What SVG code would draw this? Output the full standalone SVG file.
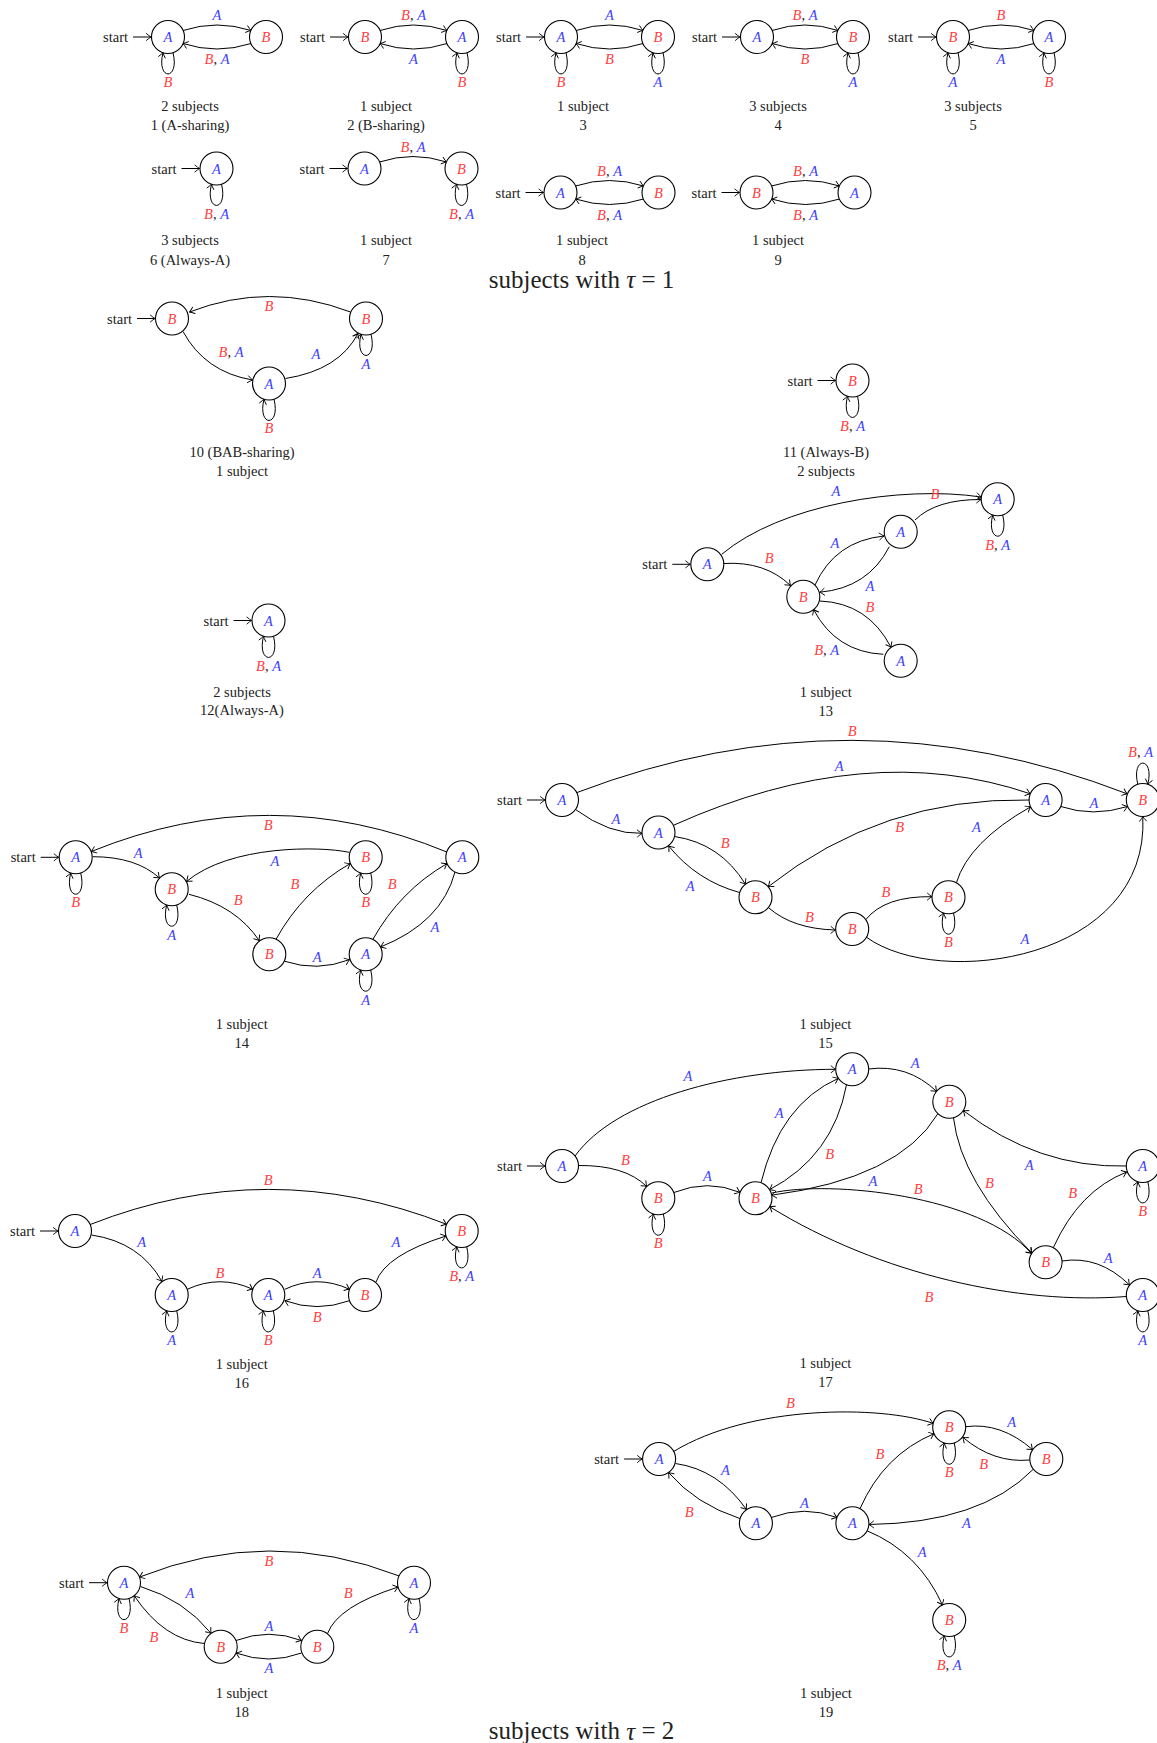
<svg xmlns="http://www.w3.org/2000/svg" xmlns:xlink="http://www.w3.org/1999/xlink" width="1157" height="1743" viewBox="0 0 1157 1743">
<style>
  text { font-family: "Liberation Serif", "DejaVu Serif", serif; font-size: 14.5px; fill: #222; text-anchor: middle; dominant-baseline: central; }
  .node circle { fill: #fff; stroke: #000; stroke-width: 1.1; }
  .node text, .m { font-style: italic; }
  .a { fill: #4040ff; }
  .b { fill: #ff4040; }
  .k { font-style: normal; fill: #222; }
  .e { fill: none; stroke: #000; stroke-width: 1; marker-end: url(#arr); }
  .st { text-anchor: end; }
  .title { font-size: 25px; }
</style>
<defs>
  <marker id="arr" viewBox="-6 -5 7 10" refX="0" refY="0" markerWidth="7" markerHeight="10" markerUnits="userSpaceOnUse" orient="auto">
    <path d="M-4.6,-3.4 Q-1.6,-0.9 0,0 Q-1.6,0.9 -4.6,3.4" fill="none" stroke="#000" stroke-width="0.9" stroke-linecap="round"/>
  </marker>
  <!-- self-loops: below and above a state of radius 16.5 -->
  <path id="lb" d="M5,15.7 C12,44 -12,44 -5,15.7" fill="none" stroke="#000" stroke-width="1" marker-end="url(#arr)"/>
  <path id="la" d="M-5,-15.7 C-12,-44 12,-44 5,-15.7" fill="none" stroke="#000" stroke-width="1" marker-end="url(#arr)"/>
</defs>
<rect width="1157" height="1743" fill="#fff"/>

<!-- ===== 1 (A-sharing) ===== -->
<g id="f1">
  <g id="f1-edges">
    <text class="st" x="128" y="37">start</text>
    <path class="e" d="M133,37 H151"/>
    <path class="e" d="M183,30.5 Q217,19.5 251,30.5"/>
    <path class="e" d="M251,43.5 Q217,54.5 183,43.5"/>
    <use href="#lb" x="168" y="37"/>
    <text class="m a" x="217" y="15">A</text>
    <text class="m" x="217" y="59"><tspan class="b">B</tspan><tspan class="k">, </tspan><tspan class="a">A</tspan></text>
    <text class="m b" x="168" y="82">B</text>
  </g>
  <g id="f1-q0" class="node"><circle cx="168" cy="37" r="16.5"/><text class="a" x="168" y="37">A</text></g>
  <g id="f1-q1" class="node"><circle cx="266" cy="37" r="16.5"/><text class="b" x="266" y="37">B</text></g>
  <text x="190" y="106">2 subjects</text>
  <text x="190" y="125">1 (A-sharing)</text>
</g>

<!-- ===== 2 (B-sharing) ===== -->
<g id="f2">
  <g id="f2-edges">
    <text class="st" x="325" y="37">start</text>
    <path class="e" d="M330,37 H348"/>
    <path class="e" d="M380,30.5 Q413.5,19.5 447,30.5"/>
    <path class="e" d="M447,43.5 Q413.5,54.5 380,43.5"/>
    <use href="#lb" x="462" y="37"/>
    <text class="m" x="413.5" y="15"><tspan class="b">B</tspan><tspan class="k">, </tspan><tspan class="a">A</tspan></text>
    <text class="m a" x="413.5" y="59">A</text>
    <text class="m b" x="462" y="82">B</text>
  </g>
  <g id="f2-q0" class="node"><circle cx="365" cy="37" r="16.5"/><text class="b" x="365" y="37">B</text></g>
  <g id="f2-q1" class="node"><circle cx="462" cy="37" r="16.5"/><text class="a" x="462" y="37">A</text></g>
  <text x="386" y="106">1 subject</text>
  <text x="386" y="125">2 (B-sharing)</text>
</g>

<!-- ===== 3 ===== -->
<g id="f3">
  <g id="f3-edges">
    <text class="st" x="521" y="37">start</text>
    <path class="e" d="M526,37 H544"/>
    <path class="e" d="M576,30.5 Q609.5,19.5 643,30.5"/>
    <path class="e" d="M643,43.5 Q609.5,54.5 576,43.5"/>
    <use href="#lb" x="561" y="37"/>
    <use href="#lb" x="658" y="37"/>
    <text class="m a" x="609.5" y="15">A</text>
    <text class="m b" x="609.5" y="59">B</text>
    <text class="m b" x="561" y="82">B</text>
    <text class="m a" x="658" y="82">A</text>
  </g>
  <g id="f3-q0" class="node"><circle cx="561" cy="37" r="16.5"/><text class="a" x="561" y="37">A</text></g>
  <g id="f3-q1" class="node"><circle cx="658" cy="37" r="16.5"/><text class="b" x="658" y="37">B</text></g>
  <text x="583" y="106">1 subject</text>
  <text x="583" y="125">3</text>
</g>

<!-- ===== 4 ===== -->
<g id="f4">
  <g id="f4-edges">
    <text class="st" x="717" y="37">start</text>
    <path class="e" d="M722,37 H740"/>
    <path class="e" d="M772,30.5 Q805,19.5 838,30.5"/>
    <path class="e" d="M838,43.5 Q805,54.5 772,43.5"/>
    <use href="#lb" x="853" y="37"/>
    <text class="m" x="805" y="15"><tspan class="b">B</tspan><tspan class="k">, </tspan><tspan class="a">A</tspan></text>
    <text class="m b" x="805" y="59">B</text>
    <text class="m a" x="853" y="82">A</text>
  </g>
  <g id="f4-q0" class="node"><circle cx="757" cy="37" r="16.5"/><text class="a" x="757" y="37">A</text></g>
  <g id="f4-q1" class="node"><circle cx="853" cy="37" r="16.5"/><text class="b" x="853" y="37">B</text></g>
  <text x="778" y="106">3 subjects</text>
  <text x="778" y="125">4</text>
</g>

<!-- ===== 5 ===== -->
<g id="f5">
  <g id="f5-edges">
    <text class="st" x="913" y="37">start</text>
    <path class="e" d="M918,37 H936"/>
    <path class="e" d="M968,30.5 Q1001,19.5 1034,30.5"/>
    <path class="e" d="M1034,43.5 Q1001,54.5 968,43.5"/>
    <use href="#lb" x="953" y="37"/>
    <use href="#lb" x="1049" y="37"/>
    <text class="m b" x="1001" y="15">B</text>
    <text class="m a" x="1001" y="59">A</text>
    <text class="m a" x="953" y="82">A</text>
    <text class="m b" x="1049" y="82">B</text>
  </g>
  <g id="f5-q0" class="node"><circle cx="953" cy="37" r="16.5"/><text class="b" x="953" y="37">B</text></g>
  <g id="f5-q1" class="node"><circle cx="1049" cy="37" r="16.5"/><text class="a" x="1049" y="37">A</text></g>
  <text x="973" y="106">3 subjects</text>
  <text x="973" y="125">5</text>
</g>

<!-- ===== 6 (Always-A) ===== -->
<g id="f6">
  <g id="f6-edges">
    <text class="st" x="176.5" y="168.5">start</text>
    <path class="e" d="M181.5,168.5 H199.5"/>
    <use href="#lb" x="216.5" y="168.5"/>
    <text class="m" x="216.5" y="213.5"><tspan class="b">B</tspan><tspan class="k">, </tspan><tspan class="a">A</tspan></text>
  </g>
  <g id="f6-q0" class="node"><circle cx="216.5" cy="168.5" r="16.5"/><text class="a" x="216.5" y="168.5">A</text></g>
  <text x="190" y="240">3 subjects</text>
  <text x="190" y="260">6 (Always-A)</text>
</g>

<!-- ===== 7 ===== -->
<g id="f7">
  <g id="f7-edges">
    <text class="st" x="324.5" y="168.5">start</text>
    <path class="e" d="M329.5,168.5 H347.5"/>
    <path class="e" d="M379.5,162 Q413,151 446.5,162"/>
    <use href="#lb" x="461.5" y="168.5"/>
    <text class="m" x="413" y="146.5"><tspan class="b">B</tspan><tspan class="k">, </tspan><tspan class="a">A</tspan></text>
    <text class="m" x="461.5" y="213.5"><tspan class="b">B</tspan><tspan class="k">, </tspan><tspan class="a">A</tspan></text>
  </g>
  <g id="f7-q0" class="node"><circle cx="364.5" cy="168.5" r="16.5"/><text class="a" x="364.5" y="168.5">A</text></g>
  <g id="f7-q1" class="node"><circle cx="461.5" cy="168.5" r="16.5"/><text class="b" x="461.5" y="168.5">B</text></g>
  <text x="386" y="240">1 subject</text>
  <text x="386" y="260">7</text>
</g>

<!-- ===== 8 ===== -->
<g id="f8">
  <g id="f8-edges">
    <text class="st" x="520.5" y="192.5">start</text>
    <path class="e" d="M525.5,192.5 H543.5"/>
    <path class="e" d="M575.5,186 Q609.5,175 643.5,186"/>
    <path class="e" d="M643.5,199 Q609.5,210 575.5,199"/>
    <text class="m" x="609.5" y="170.5"><tspan class="b">B</tspan><tspan class="k">, </tspan><tspan class="a">A</tspan></text>
    <text class="m" x="609.5" y="214.5"><tspan class="b">B</tspan><tspan class="k">, </tspan><tspan class="a">A</tspan></text>
  </g>
  <g id="f8-q0" class="node"><circle cx="560.5" cy="192.5" r="16.5"/><text class="a" x="560.5" y="192.5">A</text></g>
  <g id="f8-q1" class="node"><circle cx="658.5" cy="192.5" r="16.5"/><text class="b" x="658.5" y="192.5">B</text></g>
  <text x="582" y="240">1 subject</text>
  <text x="582" y="260">8</text>
</g>

<!-- ===== 9 ===== -->
<g id="f9">
  <g id="f9-edges">
    <text class="st" x="716.5" y="192.5">start</text>
    <path class="e" d="M721.5,192.5 H739.5"/>
    <path class="e" d="M771.5,186 Q805.5,175 839.5,186"/>
    <path class="e" d="M839.5,199 Q805.5,210 771.5,199"/>
    <text class="m" x="805.5" y="170.5"><tspan class="b">B</tspan><tspan class="k">, </tspan><tspan class="a">A</tspan></text>
    <text class="m" x="805.5" y="214.5"><tspan class="b">B</tspan><tspan class="k">, </tspan><tspan class="a">A</tspan></text>
  </g>
  <g id="f9-q0" class="node"><circle cx="756.5" cy="192.5" r="16.5"/><text class="b" x="756.5" y="192.5">B</text></g>
  <g id="f9-q1" class="node"><circle cx="854.5" cy="192.5" r="16.5"/><text class="a" x="854.5" y="192.5">A</text></g>
  <text x="778" y="240">1 subject</text>
  <text x="778" y="260">9</text>
</g>

<text class="title" x="581.5" y="279">subjects with <tspan font-style="italic">τ</tspan> = 1</text>

<!-- ===== 10 (BAB-sharing) ===== -->
<g id="f10">
  <g id="f10-edges">
    <text class="st" x="132" y="318.5">start</text>
    <path class="e" d="M137,318.5 H155"/>
    <path class="e" d="M350.5,312 Q269,281 189.5,312"/>
    <path class="e" d="M183,331.5 Q205,372 252.5,380"/>
    <path class="e" d="M285.5,378.5 Q339,370 358,333.5"/>
    <use href="#lb" x="269" y="383.5"/>
    <use href="#lb" x="366" y="318.5"/>
    <text class="m b" x="269" y="306">B</text>
    <text class="m" x="231" y="352"><tspan class="b">B</tspan><tspan class="k">, </tspan><tspan class="a">A</tspan></text>
    <text class="m a" x="316" y="354">A</text>
    <text class="m a" x="366" y="364">A</text>
    <text class="m b" x="269" y="428">B</text>
  </g>
  <g id="f10-q0" class="node"><circle cx="172" cy="318.5" r="16.5"/><text class="b" x="172" y="318.5">B</text></g>
  <g id="f10-q1" class="node"><circle cx="269" cy="383.5" r="16.5"/><text class="a" x="269" y="383.5">A</text></g>
  <g id="f10-q2" class="node"><circle cx="366" cy="318.5" r="16.5"/><text class="b" x="366" y="318.5">B</text></g>
  <text x="242" y="452">10 (BAB-sharing)</text>
  <text x="242" y="471">1 subject</text>
</g>

<!-- ===== 11 (Always-B) ===== -->
<g id="f11">
  <g id="f11-edges">
    <text class="st" x="812.5" y="380.5">start</text>
    <path class="e" d="M817.5,380.5 H835.5"/>
    <use href="#lb" x="852.5" y="380.5"/>
    <text class="m" x="852.5" y="425.5"><tspan class="b">B</tspan><tspan class="k">, </tspan><tspan class="a">A</tspan></text>
  </g>
  <g id="f11-q0" class="node"><circle cx="852.5" cy="380.5" r="16.5"/><text class="b" x="852.5" y="380.5">B</text></g>
  <text x="826" y="452">11 (Always-B)</text>
  <text x="826" y="471">2 subjects</text>
</g>

<!-- ===== 12 (Always-A) ===== -->
<g id="f12">
  <g id="f12-edges">
    <text class="st" x="228.5" y="620.5">start</text>
    <path class="e" d="M233.5,620.5 H251.5"/>
    <use href="#lb" x="268.5" y="620.5"/>
    <text class="m" x="268.5" y="665.5"><tspan class="b">B</tspan><tspan class="k">, </tspan><tspan class="a">A</tspan></text>
  </g>
  <g id="f12-q0" class="node"><circle cx="268.5" cy="620.5" r="16.5"/><text class="a" x="268.5" y="620.5">A</text></g>
  <text x="242" y="691.5">2 subjects</text>
  <text x="242" y="710">12(Always-A)</text>
</g>

<!-- ===== 13 ===== -->
<g id="f13">
  <g id="f13-edges">
    <text class="st" x="667.3" y="564.3">start</text>
    <path class="e" d="M672.3,564.3 H690.3"/>
    <path class="e" d="M721.7,554.3 C780,505 900,485 981.3,497"/>
    <path class="e" d="M915,520 Q936,499.3 981.2,499.5"/>
    <path class="e" d="M724,563.5 Q765,561 790.5,585.5"/>
    <path class="e" d="M815,585 Q835,541 884,536"/>
    <path class="e" d="M889.3,546.7 Q868,588 819.8,592.2"/>
    <path class="e" d="M820,601 Q868,603 891,647.3"/>
    <path class="e" d="M883.3,654.3 Q836,652 813.5,609.5"/>
    <use href="#lb" x="997.7" y="499.3"/>
    <text class="m a" x="836" y="491">A</text>
    <text class="m b" x="935" y="494.3">B</text>
    <text class="m b" x="769.3" y="558.3">B</text>
    <text class="m a" x="835" y="542.7">A</text>
    <text class="m a" x="870" y="586">A</text>
    <text class="m b" x="870" y="607.3">B</text>
    <text class="m" x="826.7" y="650"><tspan class="b">B</tspan><tspan class="k">, </tspan><tspan class="a">A</tspan></text>
    <text class="m" x="997.7" y="545"><tspan class="b">B</tspan><tspan class="k">, </tspan><tspan class="a">A</tspan></text>
  </g>
  <g id="f13-q0" class="node"><circle cx="707.3" cy="564.3" r="16.5"/><text class="a" x="707.3" y="564.3">A</text></g>
  <g id="f13-q1" class="node"><circle cx="803.3" cy="596.7" r="16.5"/><text class="b" x="803.3" y="596.7">B</text></g>
  <g id="f13-q2" class="node"><circle cx="900.7" cy="531.7" r="16.5"/><text class="a" x="900.7" y="531.7">A</text></g>
  <g id="f13-q3" class="node"><circle cx="997.7" cy="499.3" r="16.5"/><text class="a" x="997.7" y="499.3">A</text></g>
  <g id="f13-q4" class="node"><circle cx="900.7" cy="660.7" r="16.5"/><text class="a" x="900.7" y="660.7">A</text></g>
  <text x="825.7" y="691.7">1 subject</text>
  <text x="825.7" y="710.7">13</text>
</g>

<!-- ===== 14 ===== -->
<g id="f14">
  <g id="f14-edges">
    <text class="st" x="35.7" y="857.3">start</text>
    <path class="e" d="M40.7,857.3 H58.7"/>
    <path class="e" d="M92.7,856.7 Q136,856.7 159.5,878"/>
    <path class="e" d="M189,894.3 Q236,906 259.3,940.7"/>
    <path class="e" d="M349,852.3 C320,846 230,845 186.5,881.5"/>
    <path class="e" d="M276,939.3 Q303,890.5 350.3,863.5"/>
    <path class="e" d="M284.7,961.3 Q317,972 349.5,959.7"/>
    <path class="e" d="M372.8,939.5 Q400.3,890.5 447,863.6"/>
    <path class="e" d="M455,872 Q441.7,922.5 380.5,947"/>
    <path class="e" d="M446.8,852 Q270,779 91.3,851.5"/>
    <use href="#lb" x="75.7" y="857.3"/>
    <use href="#lb" x="171.7" y="889.3"/>
    <use href="#lb" x="365.7" y="857.3"/>
    <use href="#lb" x="365.7" y="954.3"/>
    <text class="m b" x="75.7" y="902.3">B</text>
    <text class="m a" x="138.3" y="852.7">A</text>
    <text class="m a" x="171.7" y="934.5">A</text>
    <text class="m b" x="238.3" y="900">B</text>
    <text class="m a" x="275" y="860.7">A</text>
    <text class="m b" x="295" y="884.3">B</text>
    <text class="m b" x="365.7" y="902.3">B</text>
    <text class="m a" x="317.3" y="956.7">A</text>
    <text class="m b" x="392.3" y="884.3">B</text>
    <text class="m a" x="435" y="926.7">A</text>
    <text class="m b" x="268.3" y="825">B</text>
    <text class="m a" x="365.7" y="999.5">A</text>
  </g>
  <g id="f14-q0" class="node"><circle cx="75.7" cy="857.3" r="16.5"/><text class="a" x="75.7" y="857.3">A</text></g>
  <g id="f14-q1" class="node"><circle cx="171.7" cy="889.3" r="16.5"/><text class="b" x="171.7" y="889.3">B</text></g>
  <g id="f14-q2" class="node"><circle cx="269.3" cy="954.3" r="16.5"/><text class="b" x="269.3" y="954.3">B</text></g>
  <g id="f14-q3" class="node"><circle cx="365.7" cy="857.3" r="16.5"/><text class="b" x="365.7" y="857.3">B</text></g>
  <g id="f14-q4" class="node"><circle cx="365.7" cy="954.3" r="16.5"/><text class="a" x="365.7" y="954.3">A</text></g>
  <g id="f14-q5" class="node"><circle cx="462.3" cy="857.3" r="16.5"/><text class="a" x="462.3" y="857.3">A</text></g>
  <text x="241.7" y="1024">1 subject</text>
  <text x="241.7" y="1043">14</text>
</g>

<!-- ===== 15 ===== -->
<g id="f15">
  <g id="f15-edges">
    <text class="st" x="522" y="800">start</text>
    <path class="e" d="M527,800 H545"/>
    <path class="e" d="M576.8,792.6 Q852,687.5 1127.2,793.8"/>
    <path class="e" d="M673.4,825.3 Q867.6,738.3 1030.3,793.8"/>
    <path class="e" d="M575.5,809.5 Q609.4,834.6 642,833.3"/>
    <path class="e" d="M674.5,836.5 Q720.4,843.4 745.4,884.2"/>
    <path class="e" d="M739.5,892.5 Q696.6,880.6 668.7,846"/>
    <path class="e" d="M1029,800 Q881.6,797.2 768.2,886.7"/>
    <path class="e" d="M768.4,907.6 Q792.7,928.9 835.5,930"/>
    <path class="e" d="M865.8,919.6 Q884.8,895.9 932,896.7"/>
    <path class="e" d="M956.4,882.8 Q968.5,842.1 1030.6,806.8"/>
    <path class="e" d="M1060.8,806.5 Q1093,817.3 1127.6,806.5"/>
    <path class="e" d="M866.5,937.3 C940,990 1150,960 1142.8,816.5"/>
    <use href="#la" x="1142.8" y="800"/>
    <use href="#lb" x="948.5" y="897.3"/>
    <text class="m b" x="852.2" y="731">B</text>
    <text class="m a" x="839.2" y="765.7">A</text>
    <text class="m" x="1140.6" y="752.3"><tspan class="b">B</tspan><tspan class="k">, </tspan><tspan class="a">A</tspan></text>
    <text class="m a" x="616" y="819.3">A</text>
    <text class="m b" x="725.2" y="843.3">B</text>
    <text class="m a" x="690.3" y="886">A</text>
    <text class="m b" x="899.7" y="826.7">B</text>
    <text class="m b" x="809.4" y="916.7">B</text>
    <text class="m b" x="885.9" y="891.7">B</text>
    <text class="m b" x="948.5" y="941.7">B</text>
    <text class="m a" x="976.5" y="827.3">A</text>
    <text class="m a" x="1094" y="803.3">A</text>
    <text class="m a" x="1025" y="939">A</text>
  </g>
  <g id="f15-q0" class="node"><circle cx="562" cy="800" r="16.5"/><text class="a" x="562" y="800">A</text></g>
  <g id="f15-q1" class="node"><circle cx="658.5" cy="832.5" r="16.5"/><text class="a" x="658.5" y="832.5">A</text></g>
  <g id="f15-q2" class="node"><circle cx="755.5" cy="897.3" r="16.5"/><text class="b" x="755.5" y="897.3">B</text></g>
  <g id="f15-q3" class="node"><circle cx="852.2" cy="929" r="16.5"/><text class="b" x="852.2" y="929">B</text></g>
  <g id="f15-q4" class="node"><circle cx="948.5" cy="897.3" r="16.5"/><text class="b" x="948.5" y="897.3">B</text></g>
  <g id="f15-q5" class="node"><circle cx="1045.6" cy="800" r="16.5"/><text class="a" x="1045.6" y="800">A</text></g>
  <g id="f15-q6" class="node"><circle cx="1142.8" cy="800" r="16.5"/><text class="b" x="1142.8" y="800">B</text></g>
  <text x="825.4" y="1024">1 subject</text>
  <text x="825.4" y="1042.5">15</text>
</g>

<!-- ===== 16 ===== -->
<g id="f16">
  <g id="f16-edges">
    <text class="st" x="35" y="1231">start</text>
    <path class="e" d="M40,1231 H58"/>
    <path class="e" d="M90.2,1224.5 Q268.3,1154.4 446.6,1224.3"/>
    <path class="e" d="M91.5,1235 Q139.9,1242.2 162,1281.5"/>
    <path class="e" d="M187.2,1289.3 Q220,1274.2 252.8,1289.3"/>
    <path class="e" d="M284.8,1289.3 Q317,1274.2 349.5,1289.3"/>
    <path class="e" d="M349.5,1300.7 Q317,1312.5 284.8,1300.7"/>
    <path class="e" d="M376,1282 Q385.6,1255 446,1236"/>
    <use href="#lb" x="171.7" y="1295"/>
    <use href="#lb" x="268.3" y="1295"/>
    <use href="#lb" x="461.7" y="1231"/>
    <text class="m b" x="268.3" y="1180">B</text>
    <text class="m a" x="141.7" y="1241.7">A</text>
    <text class="m a" x="171.7" y="1340">A</text>
    <text class="m b" x="220" y="1273.3">B</text>
    <text class="m b" x="268.3" y="1340">B</text>
    <text class="m a" x="317.3" y="1273.3">A</text>
    <text class="m b" x="317.3" y="1316.7">B</text>
    <text class="m a" x="396" y="1241.7">A</text>
    <text class="m" x="461.7" y="1276"><tspan class="b">B</tspan><tspan class="k">, </tspan><tspan class="a">A</tspan></text>
  </g>
  <g id="f16-q0" class="node"><circle cx="75" cy="1231" r="16.5"/><text class="a" x="75" y="1231">A</text></g>
  <g id="f16-q1" class="node"><circle cx="171.7" cy="1295" r="16.5"/><text class="a" x="171.7" y="1295">A</text></g>
  <g id="f16-q2" class="node"><circle cx="268.3" cy="1295" r="16.5"/><text class="a" x="268.3" y="1295">A</text></g>
  <g id="f16-q3" class="node"><circle cx="365" cy="1295" r="16.5"/><text class="b" x="365" y="1295">B</text></g>
  <g id="f16-q4" class="node"><circle cx="461.7" cy="1231" r="16.5"/><text class="b" x="461.7" y="1231">B</text></g>
  <text x="241.7" y="1364">1 subject</text>
  <text x="241.7" y="1383">16</text>
</g>

<!-- ===== 17 ===== -->
<g id="f17">
  <g id="f17-edges">
    <text class="st" x="522" y="1166">start</text>
    <path class="e" d="M527,1166 H545"/>
    <path class="e" d="M575.1,1156 C615,1100 730,1069.3 835.7,1069.3"/>
    <path class="e" d="M578.5,1165.5 Q625,1165 646.7,1186.5"/>
    <path class="e" d="M673.8,1192.5 Q707.8,1178.9 740,1192.4"/>
    <path class="e" d="M761,1182.8 Q780,1104.3 838.4,1078.3"/>
    <path class="e" d="M846.5,1084.8 Q833.2,1156.2 769.5,1189.7"/>
    <path class="e" d="M868.5,1069 Q907.7,1063.8 936.7,1091.5"/>
    <path class="e" d="M937.7,1114 Q898.8,1178.4 771.7,1195.2"/>
    <path class="e" d="M953.5,1117.8 Q960.9,1181.6 1031.9,1253.1"/>
    <path class="e" d="M1126.3,1166 Q1038,1168.3 963.2,1110.5"/>
    <path class="e" d="M771.9,1193 C830,1180 980,1195 1031.5,1253.5"/>
    <path class="e" d="M1053.4,1247.5 Q1079.1,1190.7 1126.7,1172"/>
    <path class="e" d="M1062,1261 Q1098.9,1255 1129.5,1285"/>
    <path class="e" d="M1126.3,1296.5 C1020,1305 880,1275 769.7,1206.7"/>
    <use href="#lb" x="658.3" y="1198.3"/>
    <use href="#lb" x="1142.8" y="1166"/>
    <use href="#lb" x="1142.8" y="1295"/>
    <text class="m a" x="688" y="1076">A</text>
    <text class="m b" x="625.5" y="1160">B</text>
    <text class="m b" x="658.3" y="1242.7">B</text>
    <text class="m a" x="707.5" y="1176">A</text>
    <text class="m a" x="779.2" y="1113.3">A</text>
    <text class="m b" x="829.7" y="1154.3">B</text>
    <text class="m a" x="915.2" y="1063.3">A</text>
    <text class="m a" x="873" y="1180.7">A</text>
    <text class="m b" x="989.5" y="1183.3">B</text>
    <text class="m a" x="1029.2" y="1165">A</text>
    <text class="m b" x="918.3" y="1189.3">B</text>
    <text class="m b" x="1072.8" y="1193.3">B</text>
    <text class="m a" x="1108.2" y="1257.7">A</text>
    <text class="m b" x="929" y="1297.3">B</text>
    <text class="m b" x="1142.8" y="1211">B</text>
    <text class="m a" x="1142.8" y="1340">A</text>
  </g>
  <g id="f17-q0" class="node"><circle cx="562" cy="1166" r="16.5"/><text class="a" x="562" y="1166">A</text></g>
  <g id="f17-q1" class="node"><circle cx="658.3" cy="1198.3" r="16.5"/><text class="b" x="658.3" y="1198.3">B</text></g>
  <g id="f17-q2" class="node"><circle cx="755.5" cy="1198.3" r="16.5"/><text class="b" x="755.5" y="1198.3">B</text></g>
  <g id="f17-q3" class="node"><circle cx="852.2" cy="1069.3" r="16.5"/><text class="a" x="852.2" y="1069.3">A</text></g>
  <g id="f17-q4" class="node"><circle cx="949.3" cy="1101.7" r="16.5"/><text class="b" x="949.3" y="1101.7">B</text></g>
  <g id="f17-q5" class="node"><circle cx="1142.8" cy="1166" r="16.5"/><text class="a" x="1142.8" y="1166">A</text></g>
  <g id="f17-q6" class="node"><circle cx="1045.6" cy="1262.3" r="16.5"/><text class="b" x="1045.6" y="1262.3">B</text></g>
  <g id="f17-q7" class="node"><circle cx="1142.8" cy="1295" r="16.5"/><text class="a" x="1142.8" y="1295">A</text></g>
  <text x="825.4" y="1363.3">1 subject</text>
  <text x="825.4" y="1382">17</text>
</g>

<!-- ===== 18 ===== -->
<g id="f18">
  <g id="f18-edges">
    <text class="st" x="84" y="1582.7">start</text>
    <path class="e" d="M89,1582.7 H107"/>
    <path class="e" d="M399,1575.9 Q269,1525.5 139.4,1577.1"/>
    <path class="e" d="M140.5,1586.5 Q184.3,1600 211,1633.3"/>
    <path class="e" d="M204.3,1643.5 Q163.9,1640 134.2,1595.7"/>
    <path class="e" d="M236,1640.5 Q269,1628 301.5,1640.5"/>
    <path class="e" d="M301.5,1653 Q269,1665 236,1653"/>
    <path class="e" d="M327.5,1633.6 Q337.7,1606.3 398.2,1587"/>
    <use href="#lb" x="124" y="1582.7"/>
    <use href="#lb" x="414" y="1582.7"/>
    <text class="m b" x="269" y="1560.7">B</text>
    <text class="m b" x="124" y="1628">B</text>
    <text class="m a" x="190" y="1593.3">A</text>
    <text class="m b" x="154" y="1637.3">B</text>
    <text class="m a" x="269" y="1625.7">A</text>
    <text class="m a" x="269" y="1667.7">A</text>
    <text class="m b" x="348.3" y="1593.3">B</text>
    <text class="m a" x="414" y="1628">A</text>
  </g>
  <g id="f18-q0" class="node"><circle cx="124" cy="1582.7" r="16.5"/><text class="a" x="124" y="1582.7">A</text></g>
  <g id="f18-q1" class="node"><circle cx="220.7" cy="1646.7" r="16.5"/><text class="b" x="220.7" y="1646.7">B</text></g>
  <g id="f18-q2" class="node"><circle cx="317.3" cy="1646.7" r="16.5"/><text class="b" x="317.3" y="1646.7">B</text></g>
  <g id="f18-q3" class="node"><circle cx="414" cy="1582.7" r="16.5"/><text class="a" x="414" y="1582.7">A</text></g>
  <text x="241.7" y="1692.7">1 subject</text>
  <text x="241.7" y="1711.7">18</text>
</g>

<!-- ===== 19 ===== -->
<g id="f19">
  <g id="f19-edges">
    <text class="st" x="619.1" y="1459">start</text>
    <path class="e" d="M624.1,1459 H642.1"/>
    <path class="e" d="M673.8,1451.4 C750,1405 880,1405 933.2,1423.4"/>
    <path class="e" d="M675.5,1463.5 Q718.6,1469.7 746.4,1509.5"/>
    <path class="e" d="M739.8,1518.5 Q695.8,1504.2 668.5,1472.5"/>
    <path class="e" d="M771.3,1517.5 Q804.5,1505 837,1517.5"/>
    <path class="e" d="M860,1508.7 Q883.5,1455 934,1433.7"/>
    <path class="e" d="M965.8,1426.7 Q1000.8,1422 1032.6,1449.7"/>
    <path class="e" d="M1029.8,1460 Q993.7,1463.4 962.8,1437.3"/>
    <path class="e" d="M1033,1469.5 Q980.7,1523 869,1524.5"/>
    <path class="e" d="M867.1,1530.8 Q918.3,1552 942.5,1605"/>
    <use href="#lb" x="949.2" y="1427.3"/>
    <use href="#lb" x="949.2" y="1620"/>
    <text class="m b" x="790.5" y="1402.7">B</text>
    <text class="m a" x="725.4" y="1470">A</text>
    <text class="m b" x="689.3" y="1512.3">B</text>
    <text class="m a" x="804.5" y="1502.7">A</text>
    <text class="m b" x="880" y="1454.3">B</text>
    <text class="m b" x="949.2" y="1472">B</text>
    <text class="m a" x="1011.7" y="1421.7">A</text>
    <text class="m b" x="983.7" y="1464.3">B</text>
    <text class="m a" x="966.5" y="1522.7">A</text>
    <text class="m a" x="922.3" y="1551.7">A</text>
    <text class="m" x="949.2" y="1665"><tspan class="b">B</tspan><tspan class="k">, </tspan><tspan class="a">A</tspan></text>
  </g>
  <g id="f19-q0" class="node"><circle cx="659.1" cy="1459" r="16.5"/><text class="a" x="659.1" y="1459">A</text></g>
  <g id="f19-q1" class="node"><circle cx="755.9" cy="1523.3" r="16.5"/><text class="a" x="755.9" y="1523.3">A</text></g>
  <g id="f19-q2" class="node"><circle cx="852.4" cy="1523.3" r="16.5"/><text class="a" x="852.4" y="1523.3">A</text></g>
  <g id="f19-q3" class="node"><circle cx="949.2" cy="1427.3" r="16.5"/><text class="b" x="949.2" y="1427.3">B</text></g>
  <g id="f19-q4" class="node"><circle cx="1046.3" cy="1459" r="16.5"/><text class="b" x="1046.3" y="1459">B</text></g>
  <g id="f19-q5" class="node"><circle cx="949.2" cy="1620" r="16.5"/><text class="b" x="949.2" y="1620">B</text></g>
  <text x="825.9" y="1693.3">1 subject</text>
  <text x="825.9" y="1711.7">19</text>
</g>

<text class="title" x="581.5" y="1730.5">subjects with <tspan font-style="italic">τ</tspan> = 2</text>
</svg>
